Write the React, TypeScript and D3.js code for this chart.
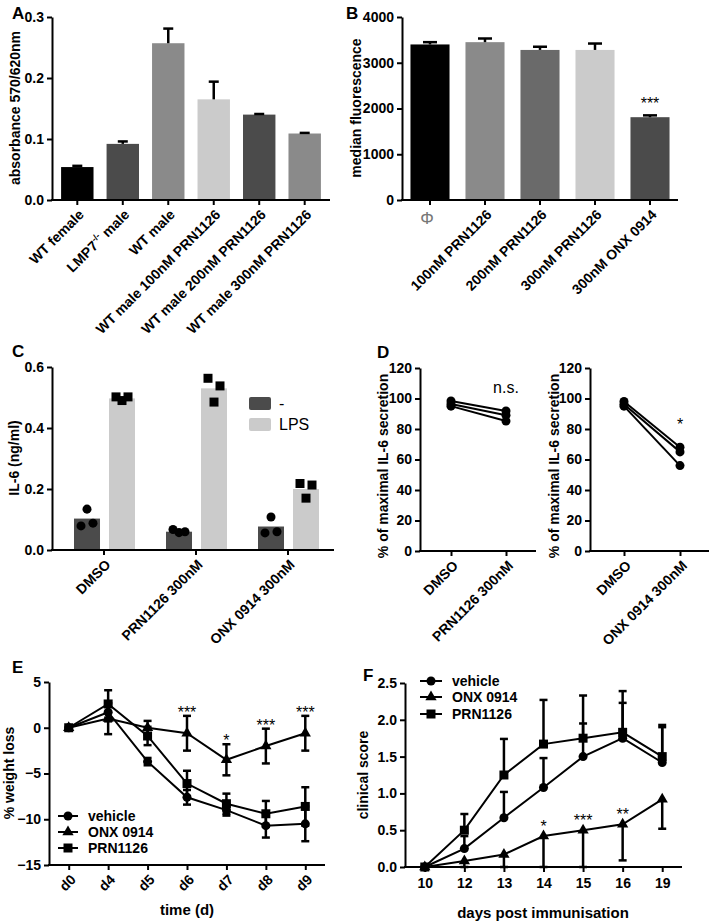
import { useEffect, useRef } from "react";
import * as d3 from "d3";

const FONT = "'Liberation Sans', Arial, Helvetica, sans-serif";

// panel A
const aGroups = ["WT female", "LMP7-/- male", "WT male", "WT male 100nM PRN1126", "WT male 200nM PRN1126", "WT male 300nM PRN1126"];
const aMeans = [0.054, 0.092, 0.257, 0.165, 0.14, 0.109];
const aSem = [0.002, 0.004, 0.024, 0.029, 0.001, 0.001];
const aTicks = [0, 0.1, 0.2, 0.3];
const aColors = ["#000000", "#4b4b4b", "#8a8a8a", "#cbcbcb", "#4b4b4b", "#8a8a8a"];

// panel B
const bGroups = ["Φ", "100nM PRN1126", "200nM PRN1126", "300nM PRN1126", "300nM ONX 0914"];
const bMeans = [3400, 3450, 3280, 3280, 1810];
const bSem = [50, 80, 70, 140, 40];
const bSig = ["", "", "", "", "***"];
const bTicks = [0, 1000, 2000, 3000, 4000];
const bColors = ["#000000", "#8a8a8a", "#6a6a6a", "#cbcbcb", "#4b4b4b"];

// panel C
const cGroups = ["DMSO", "PRN1126 300nM", "ONX 0914 300nM"];
const cStim = ["-", "LPS"];
const cNoStim = [0.103, 0.06, 0.077];
const cLps = [0.497, 0.53, 0.2];
const cNoStimPts = [[0.079, 0.134, 0.088], [0.067, 0.057, 0.06], [0.056, 0.108, 0.06]];
const cLpsPts = [[0.502, 0.49, 0.502], [0.563, 0.485, 0.538], [0.218, 0.17, 0.213]];
const cTicks = [0, 0.2, 0.4, 0.6];
const cColors = ["#4b4b4b", "#cbcbcb"];

// panel D
const dLeftGroups = ["DMSO", "PRN1126 300nM"];
const dRightGroups = ["DMSO", "ONX 0914 300nM"];
const dLeftDmso = [98.4, 96.4, 95];
const dLeftPrn = [91.8, 89, 85.2];
const dRightDmso = [98, 96.2, 95];
const dRightOnx = [68, 65, 56];
const dTicks = [0, 20, 40, 60, 80, 100, 120];

// panel E
const eDays = ["d0", "d4", "d5", "d6", "d7", "d8", "d9"];
const eVehicle = [0, 1.7, -3.7, -7.6, -9.0, -10.7, -10.5];
const eVehicleSem = [0, 1.0, 0.4, 0.8, 0.6, 1.3, 1.9];
const eOnx = [0, 1.0, 0, -0.6, -3.5, -2.0, -0.6];
const eOnxSem = [0, 1.7, 0.75, 1.9, 1.7, 1.9, 1.9];
const ePrn = [0, 2.6, -0.9, -6.1, -8.3, -9.4, -8.6];
const ePrnSem = [0, 1.5, 1.0, 1.4, 1.1, 1.4, 2.1];
const eSig = ["", "", "", "***", "*", "***", "***"];
const eTicks = [-15, -10, -5, 0, 5];

// panel F
const fDays = ["10", "12", "13", "14", "15", "16", "19"];
const fVehicle = [0, 0.25, 0.67, 1.08, 1.5, 1.75, 1.42];
const fVehicleSem = [0, 0.17, 0.35, 0.4, 0.45, 0.48, 0.48];
const fOnx = [0, 0.08, 0.17, 0.42, 0.5, 0.58, 0.92];
const fOnxSem = [0, 0.08, 0.17, 0.42, 0.5, 0.49, 0.4];
const fPrn = [0, 0.5, 1.25, 1.67, 1.75, 1.83, 1.5];
const fPrnSem = [0, 0.22, 0.49, 0.6, 0.58, 0.56, 0.43];
const fSig = ["", "", "", "*", "***", "**", ""];
const fTicks = [0, 0.5, 1, 1.5, 2, 2.5];

const seriesNames = ["vehicle", "ONX 0914", "PRN1126"];

type Sel = d3.Selection<any, unknown, null, undefined>;

function styleAxis(g: Sel) {
  g.attr("font-family", FONT).attr("font-size", 14).attr("font-weight", "bold");
  g.selectAll(".domain").attr("stroke", "#000").attr("stroke-width", 2);
  g.selectAll(".tick line").attr("stroke", "#000").attr("stroke-width", 2);
  g.selectAll(".tick text").attr("fill", "#000");
}

function yAxis(svg: Sel, y: any, ticks: number[], x: number, fmt: (d: any) => string) {
  const g = svg.append("g").attr("transform", `translate(${x},0)`)
    .call(d3.axisLeft(y).tickValues(ticks).tickSize(5).tickPadding(3).tickSizeOuter(0).tickFormat(fmt));
  styleAxis(g);
  return g;
}

function xAxis(svg: Sel, x: any, yPos: number, x0: number, x1: number) {
  const g = svg.append("g").attr("transform", `translate(0,${yPos})`)
    .call(d3.axisBottom(x).tickSize(5).tickPadding(4).tickSizeOuter(0));
  styleAxis(g);
  g.select(".domain").remove();
  g.append("line").attr("x1", x0).attr("x2", x1).attr("stroke", "#000").attr("stroke-width", 2);
  return g;
}

function rotateLabels(g: Sel) {
  g.selectAll(".tick text")
    .attr("text-anchor", "end").attr("x", 0).attr("y", 0).attr("dy", "0.35em")
    .attr("transform", "translate(4,12) rotate(-45)");
}

function yTitle(svg: Sel, text: string, x: number, yc: number) {
  svg.append("text").attr("transform", `translate(${x},${yc}) rotate(-90)`)
    .attr("text-anchor", "middle").attr("font-family", FONT).attr("font-size", 14)
    .attr("font-weight", "bold").text(text);
}

function letter(svg: Sel, t: string, x: number, y: number) {
  svg.append("text").attr("x", x).attr("y", y).attr("font-family", FONT)
    .attr("font-size", 17).attr("font-weight", "bold").text(t);
}

function sigText(svg: Sel, t: string, x: number, y: number) {
  svg.append("text").attr("x", x).attr("y", y).attr("text-anchor", "middle")
    .attr("font-family", FONT).attr("font-size", 16).text(t);
}

function errBar(svg: Sel, x: number, y0: number, y1: number, cap: number) {
  svg.append("line").attr("x1", x).attr("x2", x).attr("y1", y0).attr("y2", y1)
    .attr("stroke", "#000").attr("stroke-width", 2.5);
  svg.append("line").attr("x1", x - cap / 2).attr("x2", x + cap / 2).attr("y1", y1).attr("y2", y1)
    .attr("stroke", "#000").attr("stroke-width", 2.5);
}

function drawA(svg: Sel) {
  const x = d3.scaleBand().domain(aGroups).range([52, 330]).paddingInner(0.287).paddingOuter(0.2);
  const y = d3.scaleLinear().domain([0, 0.3]).range([200, 17]);
  svg.append("g").selectAll("rect").data(aGroups).join("rect")
    .attr("x", d => x(d)!).attr("width", x.bandwidth())
    .attr("y", (d, i) => y(aMeans[i])).attr("height", (d, i) => y(0) - y(aMeans[i]))
    .attr("fill", (d, i) => aColors[i]);
  aGroups.forEach((d, i) => errBar(svg, x(d)! + x.bandwidth() / 2, y(aMeans[i]), y(aMeans[i] + aSem[i]), 10));
  yAxis(svg, y, aTicks, 52, d3.format(".1f"));
  const g = xAxis(svg, x, 200, 51, 330);
  rotateLabels(g);
  g.selectAll<SVGTextElement, string>(".tick text").each(function (d) {
    if (d.includes("-/-")) {
      const t = d3.select(this);
      const parts = d.split("-/-");
      t.text(null);
      t.append("tspan").text(parts[0]);
      t.append("tspan").attr("font-size", 9).attr("dy", -6).text("-/-");
      t.append("tspan").attr("dy", 6).text(parts[1]);
    }
  });
  yTitle(svg, "absorbance 570/620nm", 20, 108);
  letter(svg, "A", 12, 19);
}

function drawB(svg: Sel) {
  const x = d3.scaleBand().domain(bGroups).range([402, 678]).paddingInner(0.29).paddingOuter(0.154);
  const y = d3.scaleLinear().domain([0, 4000]).range([200, 17]);
  svg.append("g").selectAll("rect").data(bGroups).join("rect")
    .attr("x", d => x(d)!).attr("width", x.bandwidth())
    .attr("y", (d, i) => y(bMeans[i])).attr("height", (d, i) => y(0) - y(bMeans[i]))
    .attr("fill", (d, i) => bColors[i]);
  bGroups.forEach((d, i) => {
    const cx = x(d)! + x.bandwidth() / 2;
    errBar(svg, cx, y(bMeans[i]), y(bMeans[i] + bSem[i]), 14);
    if (bSig[i]) sigText(svg, bSig[i], cx, y(bMeans[i] + bSem[i]) - 6);
  });
  yAxis(svg, y, bTicks, 402, d3.format("d"));
  const g = xAxis(svg, x, 200, 401, 678);
  rotateLabels(g);
  g.selectAll<SVGTextElement, string>(".tick text").filter(d => d === bGroups[0])
    .attr("transform", null).attr("text-anchor", "middle").attr("x", -3).attr("y", 24)
    .attr("dy", null).attr("font-weight", "normal").attr("font-size", 17).attr("fill", "#777");
  yTitle(svg, "median fluorescence", 361, 108);
  letter(svg, "B", 346, 19);
}

function drawC(svg: Sel) {
  const x = d3.scaleBand().domain(cGroups).range([58, 334]);
  const sub = d3.scaleBand().domain(cStim).range([-30, 31]).paddingInner(0.257);
  const y = d3.scaleLinear().domain([0, 0.6]).range([550, 367]);
  const means = [cNoStim, cLps];
  const pts = [cNoStimPts, cLpsPts];
  cGroups.forEach((grp, gi) => {
    const gc = x(grp)! + x.bandwidth() / 2;
    cStim.forEach((s, si) => {
      svg.append("rect").attr("x", gc + sub(s)!).attr("width", sub.bandwidth())
        .attr("y", y(means[si][gi])).attr("height", y(0) - y(means[si][gi]))
        .attr("fill", cColors[si]);
      const bc = gc + sub(s)! + sub.bandwidth() / 2;
      const vals = pts[si][gi];
      vals.forEach((v, k) => {
        const px = bc + (k - 1) * 6;
        svg.append("path").attr("transform", `translate(${px},${y(v)})`)
          .attr("d", d3.symbol().type(si === 0 ? d3.symbolCircle : d3.symbolSquare).size(si === 0 ? 64 : 81)())
          .attr("fill", "#000");
      });
    });
  });
  yAxis(svg, y, cTicks, 52, d3.format(".1f"));
  const g = xAxis(svg, x, 550, 51, 334);
  rotateLabels(g);
  yTitle(svg, "IL-6 (ng/ml)", 19, 458);
  letter(svg, "C", 12, 357);
  // legend
  cStim.forEach((s, si) => {
    svg.append("rect").attr("x", 249).attr("y", 397 + si * 21).attr("width", 22).attr("height", 13)
      .attr("rx", 2).attr("fill", cColors[si]);
    svg.append("text").attr("x", 279).attr("y", 409 + si * 21).attr("font-family", FONT)
      .attr("font-size", 16).text(s);
  });
}

function drawPaired(svg: Sel, groups: string[], before: number[], after: number[], axisX: number, axisEnd: number, p0: number, p1: number, note: string, noteY: number) {
  const x = d3.scalePoint().domain(groups).range([p0, p1]);
  const y = d3.scaleLinear().domain([0, 120]).range([551, 368]);
  before.forEach((b, i) => {
    svg.append("line").attr("x1", x(groups[0])!).attr("x2", x(groups[1])!)
      .attr("y1", y(b)).attr("y2", y(after[i])).attr("stroke", "#000").attr("stroke-width", 2);
  });
  [before, after].forEach((arr, j) => arr.forEach(v => {
    svg.append("circle").attr("cx", x(groups[j])!).attr("cy", y(v)).attr("r", 4.5).attr("fill", "#000");
  }));
  yAxis(svg, y, dTicks, axisX, d3.format("d"));
  const g = xAxis(svg, x, 551, axisX - 1, axisEnd);
  rotateLabels(g);
  svg.append("text").attr("x", x(groups[1])!).attr("y", noteY).attr("text-anchor", "middle")
    .attr("font-family", FONT).attr("font-size", 16).text(note);
}

function drawD(svg: Sel) {
  drawPaired(svg, dLeftGroups, dLeftDmso, dLeftPrn, 420, 536, 451, 506, "n.s.", 393);
  drawPaired(svg, dRightGroups, dRightDmso, dRightOnx, 590, 712, 624, 680, "*", 430);
  yTitle(svg, "% of maximal IL-6 secretion", 388, 466);
  yTitle(svg, "% of maximal IL-6 secretion", 559, 466);
  letter(svg, "D", 377, 358);
}

const symbols = [d3.symbolCircle, d3.symbolTriangle, d3.symbolSquare];
const symbolSizes = [64, 55, 81];

function drawSeries(svg: Sel, x: any, y: any, cats: string[], vals: number[][], sems: number[][], dirs: number[][]) {
  const line = d3.line<number>().x((d, i) => x(cats[i])).y(d => y(d));
  vals.forEach((v) => {
    svg.append("path").datum(v).attr("d", line).attr("fill", "none").attr("stroke", "#000").attr("stroke-width", 2);
  });
  vals.forEach((v, si) => {
    v.forEach((m, i) => {
      if (sems[si][i] > 0) {
        dirs[si].forEach(dir => errBar(svg, x(cats[i]), y(m), y(m + dir * sems[si][i]), 8));
      }
    });
  });
  vals.forEach((v, si) => {
    v.forEach((m, i) => {
      svg.append("path").attr("transform", `translate(${x(cats[i])},${y(m)})`)
        .attr("d", d3.symbol().type(symbols[si]).size(symbolSizes[si])()).attr("fill", "#000");
    });
  });
}

function legend(svg: Sel, x0: number, x1: number, xText: number, ys: number[]) {
  seriesNames.forEach((n, i) => {
    const yy = ys[i];
    svg.append("line").attr("x1", x0).attr("x2", x1).attr("y1", yy - 5).attr("y2", yy - 5)
      .attr("stroke", "#000").attr("stroke-width", 2);
    svg.append("path").attr("transform", `translate(${(x0 + x1) / 2},${yy - 5})`)
      .attr("d", d3.symbol().type(symbols[i]).size(symbolSizes[i])()).attr("fill", "#000");
    svg.append("text").attr("x", xText).attr("y", yy).attr("font-family", FONT)
      .attr("font-size", 14).attr("font-weight", "bold").text(n);
  });
}

function drawE(svg: Sel) {
  const x = d3.scalePoint().domain(eDays).range([49, 325]).padding(0.5);
  const y = d3.scaleLinear().domain([-15, 5]).range([865, 682]);
  drawSeries(svg, x, y, eDays, [eVehicle, eOnx, ePrn], [eVehicleSem, eOnxSem, ePrnSem], [[1, -1], [1, -1], [1, -1]]);
  eDays.forEach((d, i) => {
    if (eSig[i]) sigText(svg, eSig[i], x(d)!, y(eOnx[i] + eOnxSem[i]) + 2);
  });
  yAxis(svg, y, eTicks, 49, d3.format("d"));
  const g = xAxis(svg, x, 865, 48, 325);
  rotateLabels(g);
  legend(svg, 58, 78, 88, [821, 837, 853]);
  yTitle(svg, "% weight loss", 14, 773);
  svg.append("text").attr("x", 187).attr("y", 915).attr("text-anchor", "middle").attr("font-family", FONT)
    .attr("font-size", 15).attr("font-weight", "bold").text("time (d)");
  letter(svg, "E", 12, 673);
}

function drawF(svg: Sel) {
  const x = d3.scalePoint().domain(fDays).range([405, 682]).padding(0.5);
  const y = d3.scaleLinear().domain([0, 2.5]).range([867, 683]);
  drawSeries(svg, x, y, fDays, [fVehicle, fOnx, fPrn], [fVehicleSem, fOnxSem, fPrnSem], [[1], [-1], [1]]);
  fDays.forEach((d, i) => {
    if (fSig[i]) sigText(svg, fSig[i], x(d)!, y(fOnx[i]) - 4);
  });
  yAxis(svg, y, fTicks, 405, d3.format(".1f"));
  const g = xAxis(svg, x, 867, 404, 682);
  g.selectAll(".tick text").attr("y", 11);
  legend(svg, 420, 442, 452, [686, 702, 719]);
  yTitle(svg, "clinical score", 368, 775);
  svg.append("text").attr("x", 543).attr("y", 918).attr("text-anchor", "middle").attr("font-family", FONT)
    .attr("font-size", 15).attr("font-weight", "bold").text("days post immunisation");
  letter(svg, "F", 363, 681);
}

export default function App() {
  const ref = useRef<SVGSVGElement>(null);
  useEffect(() => {
    const svg = d3.select(ref.current) as unknown as Sel;
    svg.selectAll("*").remove();
    svg.append("rect").attr("width", 709).attr("height", 923).attr("fill", "#fff");
    drawA(svg);
    drawB(svg);
    drawC(svg);
    drawD(svg);
    drawE(svg);
    drawF(svg);
  }, []);
  return (
    <svg ref={ref} width={709} height={923} style={{ position: "absolute", left: 0, top: 0 }} />
  );
}
